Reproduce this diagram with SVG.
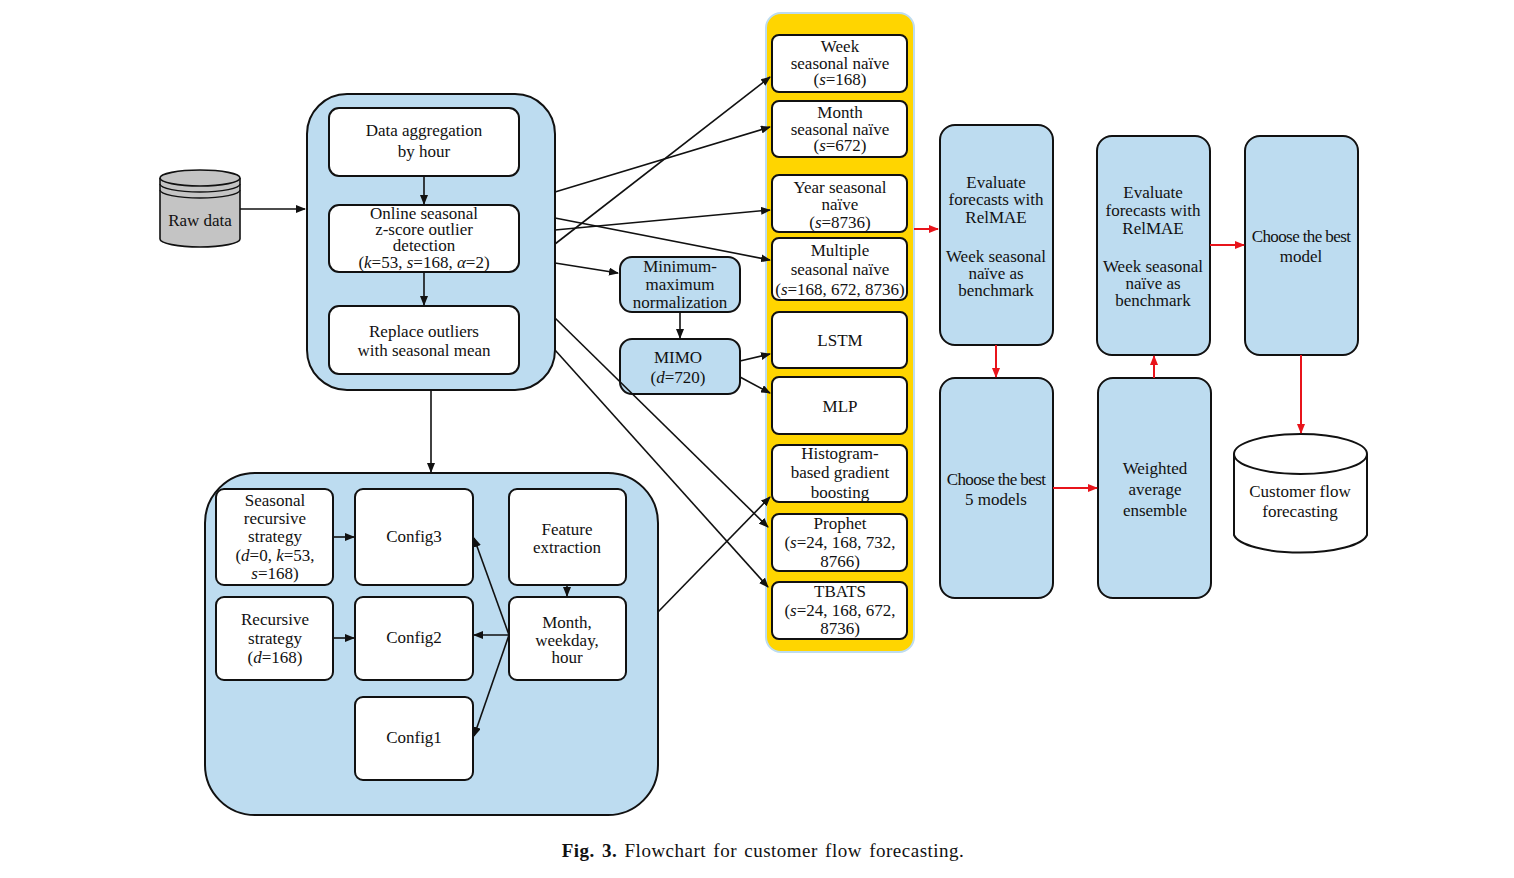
<svg xmlns="http://www.w3.org/2000/svg" width="1514" height="878" viewBox="0 0 1514 878">
<defs>
<marker id="ab" markerWidth="10" markerHeight="8" refX="9" refY="4" orient="auto" markerUnits="userSpaceOnUse"><path d="M0,0 L10,4 L0,8 z" fill="#111"/></marker>
<marker id="ar" markerWidth="10" markerHeight="8" refX="9" refY="4" orient="auto" markerUnits="userSpaceOnUse"><path d="M0,0 L10,4 L0,8 z" fill="#e8141b"/></marker>
<style>
text{font-family:"Liberation Serif","Times New Roman",serif;font-size:17px;fill:#111;text-anchor:middle}
.w{fill:#fff;stroke:#111;stroke-width:2}
.b{fill:#bddcf0;stroke:#111;stroke-width:2}
.c{stroke:#111;stroke-width:1.6;fill:none;marker-end:url(#ab)}
.r{stroke:#e8141b;stroke-width:2;fill:none;marker-end:url(#ar)}
</style>
</defs>
<rect width="1514" height="878" fill="#fff"/>
<g id="rawdata">
<path d="M160,178 L160,239 A40,8 0 0 0 240,239 L240,178" fill="#c4c4c4" stroke="#111" stroke-width="1.6"/>
<ellipse cx="200" cy="178" rx="40" ry="8" fill="#c4c4c4" stroke="#111" stroke-width="1.6"/>
<path d="M160,184 A40,8 0 0 0 240,184 M160,190 A40,8 0 0 0 240,190" fill="none" stroke="#111" stroke-width="1.4"/>
<text x="200" y="226">Raw data</text>
</g>
<g id="preprocess">
<rect class="b" x="307" y="94" width="248" height="296" rx="40"/>
<rect class="w" x="329" y="108" width="190" height="68" rx="10"/>
<text x="424" y="136">Data aggregation</text><text x="424" y="157">by hour</text>
<rect class="w" x="329" y="205" width="190" height="67" rx="10"/>
<text x="424" y="219">Online seasonal</text><text x="424" y="235">z-score outlier</text><text x="424" y="251">detection</text><text x="424" y="268">(<tspan font-style="italic">k</tspan>=53, <tspan font-style="italic">s</tspan>=168, <tspan font-style="italic">α</tspan>=2)</text>
<rect class="w" x="329" y="306" width="190" height="68" rx="10"/>
<text x="424" y="337">Replace outliers</text><text x="424" y="356">with seasonal mean</text>
</g>
<g id="features">
<rect class="b" x="205" y="473" width="453" height="342" rx="50"/>
<rect class="w" x="216" y="489" width="117" height="96" rx="8"/>
<text x="275" y="506">Seasonal</text><text x="275" y="524">recursive</text><text x="275" y="542">strategy</text><text x="275" y="561">(<tspan font-style="italic">d</tspan>=0, <tspan font-style="italic">k</tspan>=53,</text><text x="275" y="579"><tspan font-style="italic">s</tspan>=168)</text>
<rect class="w" x="355" y="489" width="118" height="96" rx="8"/>
<text x="414" y="542">Config3</text>
<rect class="w" x="509" y="489" width="117" height="96" rx="8"/>
<text x="567" y="535">Feature</text><text x="567" y="553">extraction</text>
<rect class="w" x="216" y="597" width="117" height="83" rx="8"/>
<text x="275" y="625">Recursive</text><text x="275" y="644">strategy</text><text x="275" y="663">(<tspan font-style="italic">d</tspan>=168)</text>
<rect class="w" x="355" y="597" width="118" height="83" rx="8"/>
<text x="414" y="643">Config2</text>
<rect class="w" x="509" y="597" width="117" height="83" rx="8"/>
<text x="567" y="628">Month,</text><text x="567" y="646">weekday,</text><text x="567" y="663">hour</text>
<rect class="w" x="355" y="697" width="118" height="83" rx="8"/>
<text x="414" y="743">Config1</text>
</g>
<g id="norm">
<rect class="b" x="620" y="257" width="120" height="55" rx="12"/>
<text x="680" y="272">Minimum-</text><text x="680" y="290">maximum</text><text x="680" y="308">normalization</text>
<rect class="b" x="620" y="339" width="120" height="55" rx="12"/>
<text x="678" y="363">MIMO</text><text x="678" y="383">(<tspan font-style="italic">d</tspan>=720)</text>
</g>
<g id="models">
<rect x="766" y="13" width="148" height="639" rx="15" fill="#ffd500" stroke="#bddcf0" stroke-width="2"/>
<rect class="w" x="772" y="35" width="135" height="57" rx="7"/>
<text x="840" y="52">Week</text><text x="840" y="69">seasonal naïve</text><text x="840" y="85">(<tspan font-style="italic">s</tspan>=168)</text>
<rect class="w" x="772" y="101" width="135" height="56" rx="7"/>
<text x="840" y="118">Month</text><text x="840" y="135">seasonal naïve</text><text x="840" y="151">(<tspan font-style="italic">s</tspan>=672)</text>
<rect class="w" x="772" y="175" width="135" height="57" rx="7"/>
<text x="840" y="193">Year seasonal</text><text x="840" y="210">naïve</text><text x="840" y="228">(<tspan font-style="italic">s</tspan>=8736)</text>
<rect class="w" x="772" y="238" width="135" height="62" rx="7"/>
<text x="840" y="256">Multiple</text><text x="840" y="275">seasonal naïve</text><text x="840" y="295">(<tspan font-style="italic">s</tspan>=168, 672, 8736)</text>
<rect class="w" x="772" y="312" width="135" height="56" rx="7"/>
<text x="840" y="346">LSTM</text>
<rect class="w" x="772" y="377" width="135" height="57" rx="7"/>
<text x="840" y="412">MLP</text>
<rect class="w" x="772" y="445" width="135" height="57" rx="7"/>
<text x="840" y="459">Histogram-</text><text x="840" y="478">based gradient</text><text x="840" y="498">boosting</text>
<rect class="w" x="772" y="514" width="135" height="57" rx="7"/>
<text x="840" y="529">Prophet</text><text x="840" y="548">(<tspan font-style="italic">s</tspan>=24, 168, 732,</text><text x="840" y="567">8766)</text>
<rect class="w" x="772" y="582" width="135" height="57" rx="7"/>
<text x="840" y="597">TBATS</text><text x="840" y="616">(<tspan font-style="italic">s</tspan>=24, 168, 672,</text><text x="840" y="634">8736)</text>
</g>
<g id="eval">
<rect class="b" x="940" y="125" width="113" height="220" rx="15"/>
<text x="996" y="188">Evaluate</text><text x="996" y="205">forecasts with</text><text x="996" y="223">RelMAE</text><text x="996" y="262">Week seasonal</text><text x="996" y="279">naïve as</text><text x="996" y="296">benchmark</text>
<rect class="b" x="940" y="378" width="113" height="220" rx="15"/>
<text x="996" y="485" letter-spacing="-0.6">Choose the best</text><text x="996" y="505">5 models</text>
<rect class="b" x="1097" y="136" width="113" height="219" rx="15"/>
<text x="1153" y="198">Evaluate</text><text x="1153" y="216">forecasts with</text><text x="1153" y="234">RelMAE</text><text x="1153" y="272">Week seasonal</text><text x="1153" y="289">naïve as</text><text x="1153" y="306">benchmark</text>
<rect class="b" x="1098" y="378" width="113" height="220" rx="15"/>
<text x="1155" y="474">Weighted</text><text x="1155" y="495">average</text><text x="1155" y="516">ensemble</text>
<rect class="b" x="1245" y="136" width="113" height="219" rx="15"/>
<text x="1301" y="242" letter-spacing="-0.6">Choose the best</text><text x="1301" y="262">model</text>
<path d="M1234,454 L1234,535 A67,20 0 0 0 1367,535 L1367,454" fill="#fff" stroke="#111" stroke-width="2"/>
<ellipse cx="1300.5" cy="454" rx="66.5" ry="20" fill="#fff" stroke="#111" stroke-width="2"/>
<text x="1300" y="497">Customer flow</text><text x="1300" y="517">forecasting</text>
</g>
<g id="connectors">
<path class="c" d="M240,209 H305"/>
<path class="c" d="M424,176 V204"/>
<path class="c" d="M424,272 V305"/>
<path class="c" d="M431,390 V472"/>
<path class="c" d="M555,192 L770,127"/>
<path class="c" d="M555,244 L770,77"/>
<path class="c" d="M555,218 L770,260"/>
<path class="c" d="M555,230 L770,210"/>
<path class="c" d="M555,263 L618,273"/>
<path class="c" d="M555,318 L768,527"/>
<path class="c" d="M555,350 L768,587"/>
<path class="c" d="M658,612 L770,497"/>
<path class="c" d="M680,312 V338"/>
<path class="c" d="M740,361 L770,354"/>
<path class="c" d="M740,377 L770,393"/>
<path class="c" d="M333,537 H354"/>
<path class="c" d="M333,638 H354"/>
<path class="c" d="M567,585 V596"/>
<path class="c" d="M509,635 H474"/>
<path class="c" d="M509,635 L474,538"/>
<path class="c" d="M509,635 L474,736"/>
<path class="r" d="M914,229 H938"/>
<path class="r" d="M996,345 V377"/>
<path class="r" d="M1053,488 H1097"/>
<path class="r" d="M1154,378 V356"/>
<path class="r" d="M1210,245 H1244"/>
<path class="r" d="M1301,355 V433"/>
</g>
<text x="763" y="857" style="font-size:19px" letter-spacing="0.5" word-spacing="2"><tspan font-weight="bold">Fig. 3.</tspan>  Flowchart for customer flow forecasting.</text>
</svg>
